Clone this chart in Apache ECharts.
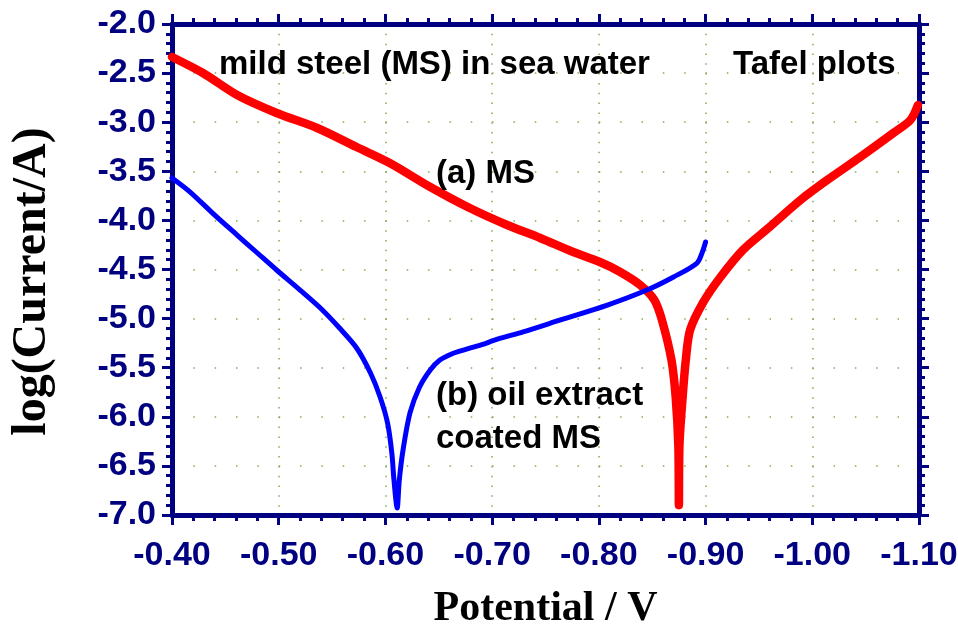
<!DOCTYPE html>
<html>
<head>
<meta charset="utf-8">
<script src="https://cdn.jsdelivr.net/npm/echarts@6/dist/echarts.min.js"></script>
<style>
  html, body { margin: 0; padding: 0; background: #ffffff; }
  #chart { width: 958px; height: 630px; }
</style>
</head>
<body>
<div id="chart"></div>
<script>
// ---- Data (potential in V, log(Current/A)) ----
const msPotential = [-0.400, -0.429, -0.461, -0.498, -0.536, -0.573, -0.604, -0.642, -0.679, -0.714,
  -0.745, -0.776, -0.801, -0.820, -0.839, -0.852, -0.859, -0.868, -0.872, -0.8745, -0.875,
  -0.8755, -0.8785, -0.8815, -0.8855, -0.898, -0.914, -0.935, -0.960, -0.989, -1.014, -1.045,
  -1.076, -1.092, -1.099];
const msLogI = [-2.336, -2.499, -2.723, -2.906, -3.059, -3.253, -3.415, -3.660, -3.874, -4.047,
  -4.179, -4.322, -4.424, -4.525, -4.660, -4.810, -5.010, -5.420, -5.800, -6.300, -6.900,
  -6.300, -5.800, -5.420, -5.116, -4.830, -4.576, -4.301, -4.067, -3.792, -3.589, -3.354,
  -3.110, -2.978, -2.825];

const coatedPotential = [-0.400, -0.417, -0.438, -0.461, -0.480, -0.498, -0.520, -0.539, -0.557, -0.573,
  -0.586, -0.595, -0.602, -0.606, -0.608, -0.611,
  -0.613, -0.6165, -0.623, -0.632, -0.642, -0.651, -0.662, -0.673, -0.689, -0.705, -0.729, -0.764,
  -0.808, -0.845, -0.870, -0.892, -0.897, -0.900];
const coatedLogI = [-3.568, -3.711, -3.925, -4.149, -4.332, -4.505, -4.709, -4.892, -5.096, -5.299,
  -5.554, -5.798, -6.063, -6.369, -6.644, -6.929,
  -6.644, -6.338, -5.961, -5.697, -5.523, -5.422, -5.360, -5.320, -5.269, -5.210, -5.135, -5.014,
  -4.862, -4.709, -4.576, -4.434, -4.322, -4.220];

const xMin = -1.10, xMax = -0.40, xStep = 0.10;
const yMin = -7.0, yMax = -2.0, yStep = 0.5;

const annotations = [
  { text: 'mild steel (MS) in sea water', x: 219, y: 68 },
  { text: 'Tafel plots', x: 733, y: 68 },
  { text: '(a) MS', x: 436, y: 177 },
  { text: '(b) oil extract', x: 436, y: 399 },
  { text: 'coated MS', x: 436, y: 442 }
];

// ---- Styling ----
const NAVY = '#000080';
const GRIDDOT = '#86a85a';
const tickFont = "'Liberation Sans', Arial, sans-serif";
const serif = "'Liberation Serif', 'Times New Roman', serif";
const sans = "'Liberation Sans', Arial, sans-serif";

function pairs(xs, ys) { return xs.map((x, i) => [x, ys[i]]); }

const chart = echarts.init(document.getElementById('chart'), null, { renderer: 'canvas' });

const axisLineStyle = { color: NAVY, width: 5 };
const baseX = { type: 'value', min: xMin, max: xMax, interval: xStep, inverse: true };
const baseY = { type: 'value', min: yMin, max: yMax, interval: yStep };

const option = {
  animation: false,
  backgroundColor: '#ffffff',
  grid: { left: 172, right: 39, top: 24, bottom: 115, containLabel: false, outerBoundsMode: 'none' },
  xAxis: [
    Object.assign({}, baseX, {
      position: 'bottom',
      name: 'Potential / V',
      nameLocation: 'middle',
      nameGap: 73,
      nameTextStyle: { fontFamily: serif, fontWeight: 'bold', fontSize: 42, color: '#000000' },
      axisLine: { show: true, onZero: false, lineStyle: axisLineStyle },
      axisTick: { show: true, inside: false, length: 10, lineStyle: { color: NAVY, width: 3 } },
      minorTick: { show: true, splitNumber: 5, length: 6, lineStyle: { color: NAVY, width: 3 } },
      axisLabel: {
        show: true, margin: 24, color: NAVY, fontFamily: tickFont, fontWeight: 'bold', fontSize: 34,
        formatter: v => v.toFixed(2)
      },
      splitLine: {
        show: true,
        interval: (i, v) => i > 0 && i < 7,
        lineStyle: { color: GRIDDOT, width: 1.5, type: [1.5, 8.32], dashOffset: 0 }
      }
    }),
    Object.assign({}, baseX, {
      position: 'top',
      axisLine: { show: true, onZero: false, lineStyle: axisLineStyle },
      axisTick: { show: true, inside: false, length: 10, lineStyle: { color: NAVY, width: 3 } },
      minorTick: { show: true, splitNumber: 5, length: 6, lineStyle: { color: NAVY, width: 3 } },
      axisLabel: { show: false },
      splitLine: { show: false }
    })
  ],
  yAxis: [
    Object.assign({}, baseY, {
      position: 'left',
      name: 'log(Current/A)',
      nameLocation: 'middle',
      nameGap: 115,
      nameRotate: 90,
      nameTextStyle: { fontFamily: serif, fontWeight: 'bold', fontSize: 48, color: '#000000', padding: [0, 24, 0, 0] },
      axisLine: { show: true, onZero: false, lineStyle: axisLineStyle },
      axisTick: { show: true, inside: false, length: 10, lineStyle: { color: NAVY, width: 3 } },
      minorTick: { show: true, splitNumber: 5, length: 6, lineStyle: { color: NAVY, width: 3 } },
      axisLabel: {
        show: true, margin: 16, color: NAVY, fontFamily: tickFont, fontWeight: 'bold', fontSize: 34,
        formatter: v => v.toFixed(1)
      },
      splitLine: {
        show: true,
        interval: (i, v) => v <= -3.0 && v > -7.0,
        lineStyle: { color: GRIDDOT, width: 1.5, type: [1.5, 19.84], dashOffset: 0 }
      }
    }),
    Object.assign({}, baseY, {
      position: 'right',
      axisLine: { show: true, onZero: false, lineStyle: axisLineStyle },
      axisTick: { show: true, inside: false, length: 10, lineStyle: { color: NAVY, width: 3 } },
      minorTick: { show: true, splitNumber: 5, length: 6, lineStyle: { color: NAVY, width: 3 } },
      axisLabel: { show: false },
      splitLine: { show: false }
    })
  ],
  series: [
    {
      name: '(a) MS', type: 'line', xAxisIndex: 0, yAxisIndex: 0,
      data: pairs(msPotential, msLogI),
      showSymbol: false, symbol: 'none', smooth: 0.3,
      lineStyle: { color: '#ff0000', width: 8.5, cap: 'round', join: 'round' },
      z: 3
    },
    {
      name: '(b) oil extract coated MS', type: 'line', xAxisIndex: 0, yAxisIndex: 0,
      data: pairs(coatedPotential, coatedLogI),
      showSymbol: false, symbol: 'none', smooth: 0.3,
      lineStyle: { color: '#0000ff', width: 5, cap: 'round', join: 'round' },
      z: 4
    }
  ],
  graphic: annotations.map(a => ({
    type: 'text', left: a.x, top: a.y - 20, z: 10,
    style: { text: a.text, fill: '#000000', font: "bold 33px " + sans }
  }))
};

chart.setOption(option);
</script>
</body>
</html>
